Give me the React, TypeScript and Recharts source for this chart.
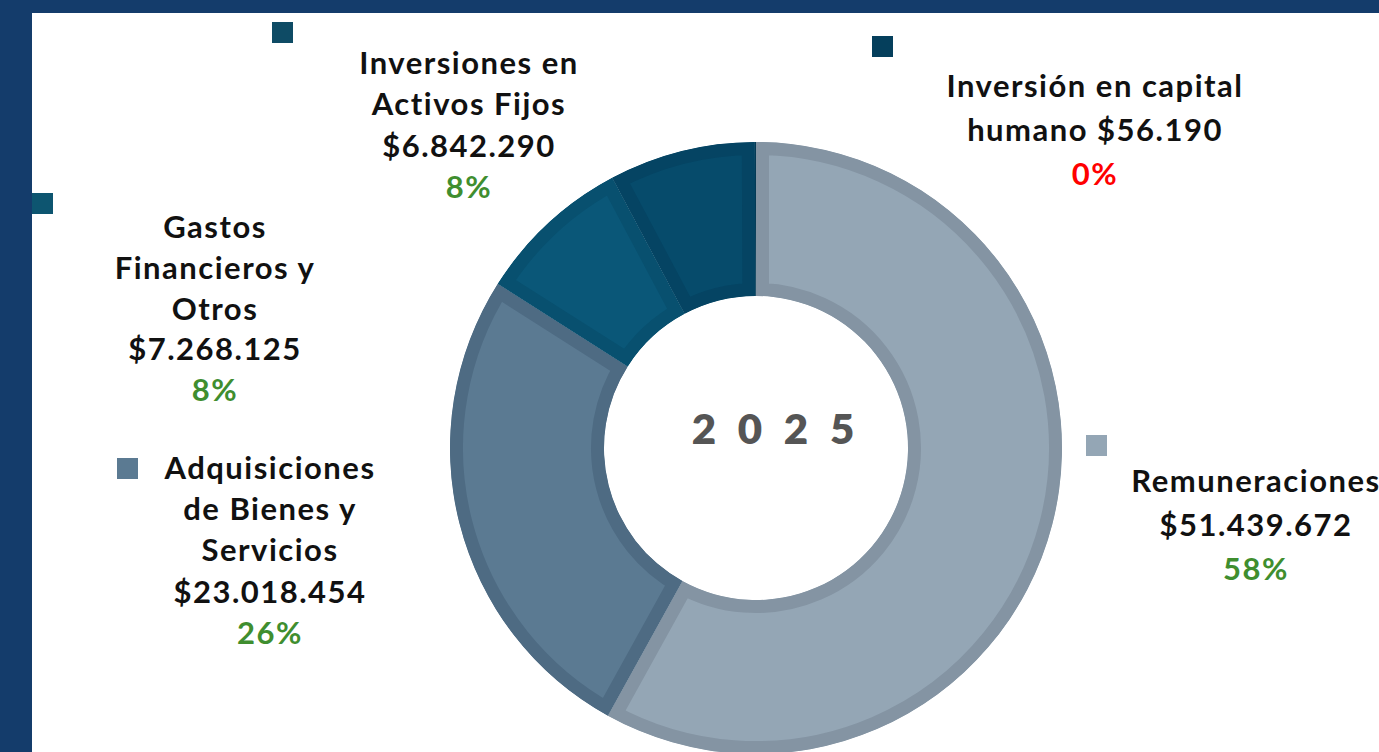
import React from "react";
import { PieChart, Pie, Cell, Sector } from "recharts";

// gasto 2025 por subtítulo
const categories = [
  "Remuneraciones",
  "Adquisiciones de Bienes y Servicios",
  "Gastos Financieros y Otros",
  "Inversiones en Activos Fijos",
  "Inversión en capital humano",
];
const amounts = [51439672, 23018454, 7268125, 6842290, 56190];
const nameLines = [
  ["Remuneraciones"],
  ["Adquisiciones", "de Bienes y", "Servicios"],
  ["Gastos", "Financieros y", "Otros"],
  ["Inversiones en", "Activos Fijos"],
  ["Inversión en capital", "humano"],
];
const centerLabel = "2 0 2 5";

const fillColors = ["#94A6B5", "#5B7A92", "#0A5778", "#064B6B", "#053F5C"];
const borderColors = ["#8494A3", "#4E6B83", "#08506F", "#054463", "#043A55"];
const markerColors = ["#94A6B5", "#5B7A92", "#0D5570", "#0E4B65", "#053F5C"];
const pctColors = ["#3F8E2F", "#3F8E2F", "#3F8E2F", "#3F8E2F", "#FF0000"];

// page offsets of the white panel
const OX = 32;
const OY = 13;

// label placement (page coords): centre x, first line y, line height, marker corner
const labelLayout = [
  { x: 1256, y: 480, lh: 44, mx: 1086, my: 435 },
  { x: 270, y: 467, lh: 41.2, mx: 117, my: 458 },
  { x: 215, y: 226, lh: 40.8, mx: 32, my: 193 },
  { x: 469, y: 62, lh: 41.3, mx: 272, my: 22 },
  { x: 1095, y: 85, lh: 44, mx: 872, my: 36 },
];

const data = categories.map((name, i) => ({ name, value: amounts[i] }));

const fmt = (v: number) => "$" + String(v).replace(/\B(?=(\d{3})+(?!\d))/g, ".");

const FONT = "Lato, 'Open Sans', sans-serif";

function BorderedSector(props: any) {
  const { cx, cy, innerRadius, outerRadius, startAngle, endAngle } = props;
  const i = categories.indexOf(props.name ?? props.payload?.name);
  const id = `sector-clip-${i}`;
  const geom = { cx, cy, innerRadius, outerRadius, startAngle, endAngle };
  return (
    <g>
      <defs>
        <clipPath id={id}>
          <Sector {...geom} />
        </clipPath>
      </defs>
      <Sector
        {...geom}
        fill={fillColors[i]}
        stroke={borderColors[i]}
        strokeWidth={26}
        clipPath={`url(#${id})`}
      />
    </g>
  );
}

function renderLabel(props: any) {
  const i = props.index;
  const pos = labelLayout[i];
  const x = pos.x - OX;
  const y0 = pos.y - OY;
  const lines = [...nameLines[i]];
  // capital humano keeps its amount on the name line
  if (i === 4) lines[lines.length - 1] += " " + fmt(amounts[i]);
  else lines.push(fmt(amounts[i]));
  const pct = Math.round(props.percent * 100) + "%";
  const textProps = {
    x,
    textAnchor: "middle" as const,
    dominantBaseline: "central" as const,
    fontFamily: FONT,
    fontWeight: 700,
    fontSize: 31,
    letterSpacing: 1.5,
  };
  return (
    <g key={`lbl-${i}`}>
      <rect x={pos.mx - OX} y={pos.my - OY} width={21} height={21} fill={markerColors[i]} />
      {lines.map((t, k) => (
        <text key={k} {...textProps} y={y0 + k * pos.lh} fill="#111">
          {t}
        </text>
      ))}
      <text {...textProps} y={y0 + lines.length * pos.lh} fill={pctColors[i]}>
        {pct}
      </text>
    </g>
  );
}

export default function App() {
  return (
    <div
      style={{
        position: "fixed",
        left: 0,
        top: 0,
        width: 1379,
        height: 752,
        background: "#143C6B",
        overflow: "hidden",
      }}
    >
      <div
        style={{
          position: "absolute",
          left: OX,
          top: OY,
          width: 1379 - OX,
          height: 752 - OY,
          background: "#fff",
        }}
      >
        <PieChart width={1379 - OX} height={752 - OY}>
          <Pie
            data={data}
            dataKey="value"
            nameKey="name"
            cx={751 - OX}
            cy={443 - OY}
            innerRadius={152}
            outerRadius={306}
            startAngle={90}
            endAngle={-270}
            stroke="none"
            shape={BorderedSector}
            activeShape={BorderedSector}
            inactiveShape={BorderedSector}
            label={renderLabel}
            labelLine={false}
            isAnimationActive={false}
          >
            {data.map((d, i) => (
              <Cell key={d.name} fill={fillColors[i]} />
            ))}
          </Pie>
        </PieChart>
        <div
          style={{
            position: "absolute",
            left: 776 - OX - 150,
            top: 428 - OY - 30,
            width: 300,
            height: 60,
            lineHeight: "60px",
            textAlign: "center",
            fontFamily: FONT,
            fontWeight: 800,
            fontSize: 42,
            letterSpacing: 6,
            color: "#555",
            whiteSpace: "pre",
          }}
        >
          {centerLabel}
        </div>
      </div>
    </div>
  );
}
